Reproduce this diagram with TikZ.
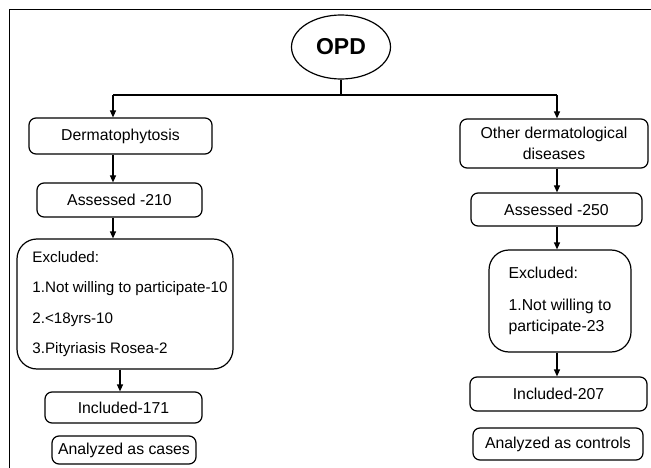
\documentclass[tikz,border=0pt]{standalone}
\usepackage{fontspec}
\setmainfont{Liberation Sans}
\usetikzlibrary{arrows.meta,shapes.geometric}
\begin{document}
\begin{tikzpicture}[x=1pt,y=-1pt,
  line width=1.2pt,
  every node/.style={font=\fontsize{15.8}{21}\selectfont, inner sep=0pt},
  box/.style={draw, rounded corners=7pt, align=center},
  bigbox/.style={draw, rounded corners=20pt, align=left},
  arr/.style={-{Triangle[length=7pt,width=6pt]}}]
\useasboundingbox (0,0) rectangle (651,468);
% frame
\draw[line width=1pt] (9,470) -- (9,10) -- (653,10);
% nodes
\node[draw, ellipse, minimum width=99pt, minimum height=64pt, font=\fontsize{23}{26}\selectfont\bfseries] (opd) at (341,47) {OPD};
\node[box, minimum width=183pt, minimum height=36pt] (derm) at (120.5,136) {Dermatophytosis};
\node[box, minimum width=188pt, minimum height=49pt] (oth) at (554,143.5) {Other dermatological\\diseases};
\node[box, minimum width=165pt, minimum height=34pt] (ass1) at (119.5,200) {Assessed -210};
\node[box, minimum width=171pt, minimum height=33pt] (ass2) at (556.5,209.5) {Assessed -250};
\node[bigbox, minimum width=216pt, minimum height=130pt, font=\fontsize{15.2}{30.5}\selectfont] (excl1) at (125,304)
  {\hspace*{10pt}Excluded:\\\hspace*{10pt}1.Not willing to participate-10\\\hspace*{10pt}2.<18yrs-10\\\hspace*{10pt}3.Pityriasis Rosea-2};
\node[bigbox, minimum width=142pt, minimum height=102pt] (excl2) at (560,301)
  {Excluded:\\[11pt]1.Not willing to\\participate-23};
\node[box, minimum width=157pt, minimum height=31pt] (inc1) at (123.5,407.5) {Included-171};
\node[box, minimum width=177pt, minimum height=34pt] (inc2) at (558.5,394) {Included-207};
\node[box, minimum width=144pt, minimum height=28pt] (an1) at (124,450) {Analyzed as cases};
\node[box, minimum width=170pt, minimum height=32pt] (an2) at (558,444) {Analyzed as controls};
% connectors
\coordinate (jl) at (113,95);
\coordinate (jr) at (557,95);
\draw (opd.south) -- (opd.south |- jl);
\draw (jl) -- (jr);
\draw[arr] (jl) -- (jl |- derm.north);
\draw[arr] (jr) -- (jr |- oth.north);
\draw[arr] (jl |- derm.south) -- (jl |- ass1.north);
\draw[arr] (jl |- ass1.south) -- (jl |- excl1.north);
\coordinate (cl) at (120,0);
\draw[arr] (cl |- excl1.south) -- (cl |- inc1.north);
\draw[arr] (jr |- oth.south) -- (jr |- ass2.north);
\draw[arr] (jr |- ass2.south) -- (jr |- excl2.north);
\draw[arr] (jr |- excl2.south) -- (jr |- inc2.north);
\end{tikzpicture}
\end{document}
